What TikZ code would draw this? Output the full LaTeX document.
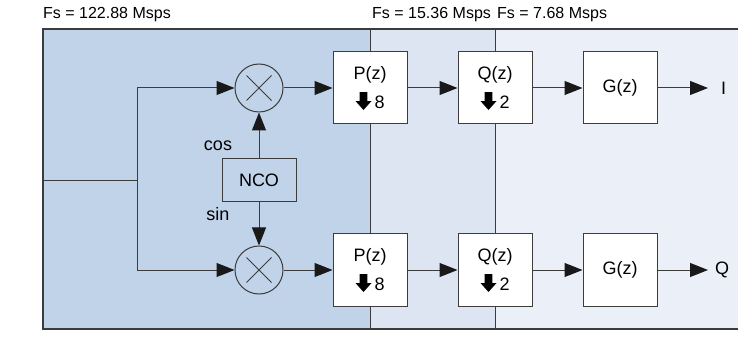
\documentclass[tikz,border=0pt]{standalone}
\usepackage{fontspec}
\setmainfont{Liberation Sans}
\usetikzlibrary{arrows.meta}
\definecolor{bandA}{HTML}{C0D3E8}
\definecolor{bandB}{HTML}{DCE5F1}
\definecolor{bandC}{HTML}{EBF0F8}
\definecolor{linegray}{HTML}{3C3C3C}
\newcommand{\dnarrow}{\tikz[x=1pt,y=1pt,baseline=0pt]\fill[black]
  (-3.8,16) -- (3.8,16) -- (3.8,7) -- (8,7) -- (0,-2) -- (-8,7) -- (-3.8,7) -- cycle;}
\newcommand{\decim}[1]{\dnarrow\hspace{3pt}#1}
\tikzset{
  blk/.style={draw=linegray, line width=1pt, fill=white, minimum width=74pt,
    minimum height=72pt, align=center, font=\fontsize{18}{29}\selectfont},
  mixer/.style={circle, draw=linegray, line width=1pt, minimum size=48pt, inner sep=0pt,
    path picture={
      \draw[linegray, line width=0.8pt]
        ([shift={(-12.5pt,-12.5pt)}]path picture bounding box.center) -- ([shift={(12.5pt,12.5pt)}]path picture bounding box.center)
        ([shift={(-12.5pt,12.5pt)}]path picture bounding box.center) -- ([shift={(12.5pt,-12.5pt)}]path picture bounding box.center);}},
  sig/.style={draw=linegray, line width=1pt, -{Triangle[length=18pt,width=14pt,color=black!90]}},
  rate/.style={anchor=west, inner sep=0pt, font=\fontsize{16}{18}\selectfont},
  lbl/.style={font=\fontsize{18}{20}\selectfont, inner sep=0pt},
}

\begin{document}
\begin{tikzpicture}[x=1pt,y=-1pt]
\useasboundingbox (0,0) rectangle (738,347);
% sampling-rate bands
\fill[bandA] (43,29) rectangle (370,329);
\fill[bandB] (370,29) rectangle (495,329);
\fill[bandC] (495,29) rectangle (738,329);
\draw[linegray, line width=1.2pt] (738,29) -- (43,29) -- (43,329) -- (738,329);
\draw[linegray, line width=1pt] (370,29) -- (370,329) (495,29) -- (495,329);
\node[rate] (fsA) at (43,15) {Fs = 122.88 Msps};
\node[rate] (fsB) at (372,15) {Fs = 15.36 Msps};
\node[rate] (fsC) at (497,15) {Fs = 7.68 Msps};

% oscillator
\node[draw=linegray, line width=1pt, minimum width=74pt, minimum height=43pt,
  font=\fontsize{18}{20}\selectfont] (nco) at (259,180) {NCO};
\node[lbl] (cos) at (218,146) {cos};
\node[lbl] (sin) at (218,214) {sin};

% I and Q branches
\foreach \row/\y/\gap in {I/88/13, Q/270/7}{
  \node[mixer] (mix\row) at (259,\y) {};
  \node[blk] (p\row) at (370,\y) {P(z)\\\decim{8}};
  \node[blk] (q\row) at (495,\y) {Q(z)\\\decim{2}};
  \node[blk] (g\row) at (620,\y) {G(z)};
  \node[lbl, anchor=west, inner xsep=\gap pt] (out\row) at (708,\y) {\row};
  \draw[sig] (mix\row) -- (p\row);
  \draw[sig] (p\row) -- (q\row);
  \draw[sig] (q\row) -- (g\row);
  \draw[sig] (g\row) -- (out\row.west);
}

\coordinate (in) at (43,181);
\coordinate (split) at (137,181);
\draw[linegray, line width=1pt] (in) -- (split);
\draw[sig] (split) |- (mixI);
\draw[sig] (split) |- (mixQ);
\draw[sig] (nco) -- (mixI);
\draw[sig] (nco) -- (mixQ);
\end{tikzpicture}
\end{document}
